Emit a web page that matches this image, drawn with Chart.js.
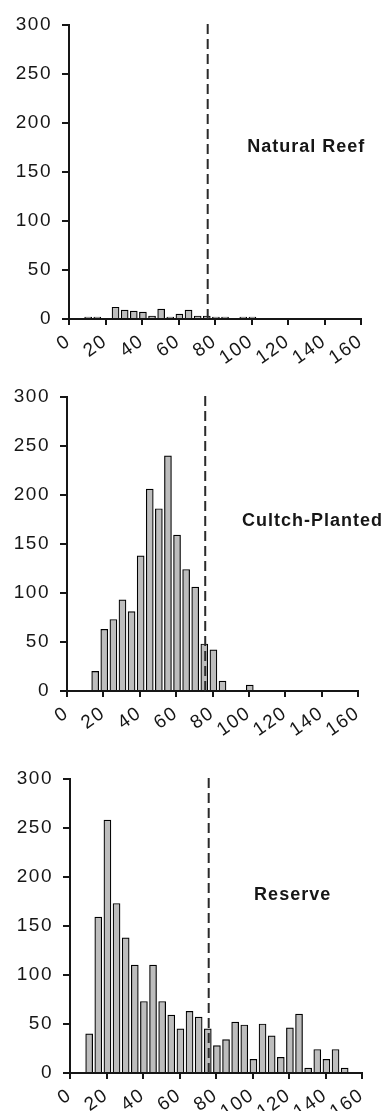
<!DOCTYPE html>
<html>
<head>
<meta charset="utf-8">
<script src="https://cdn.jsdelivr.net/npm/chart.js@4.4.1/dist/chart.umd.min.js"></script>
<style>
  body { margin: 0; background: #fff; }
  canvas { display: block; }
</style>
</head>
<body>
<canvas id="reefChart" width="391" height="370"></canvas>
<canvas id="cultchChart" width="391" height="370"></canvas>
<canvas id="reserveChart" width="391" height="371"></canvas>
<script>
// shell height bins (mm, bar centres)
const lengthBins = [10.5, 15.5, 20.5, 25.5, 30.5, 35.5, 40.5, 45.5, 50.5, 55.5,
  60.5, 65.5, 70.5, 75.5, 80.5, 85.5, 90.5, 95.5, 100.5, 105.5,
  110.5, 115.5, 120.5, 125.5, 130.5, 135.5, 140.5, 145.5, 150.5];

const naturalReefCounts = [2, 2, 0, 12, 9, 8, 7, 3, 10, 2,
  5, 9, 3, 3, 2, 2, 0, 2, 2, 0,
  0, 0, 0, 0, 0, 0, 0, 0, 0];

const cultchCounts = [0, 20, 63, 73, 93, 81, 138, 206, 186, 240,
  159, 124, 106, 48, 42, 10, 0, 0, 6, 0,
  0, 0, 0, 0, 0, 0, 0, 0, 0];

const reserveCounts = [40, 159, 258, 173, 138, 110, 73, 110, 73, 59,
  45, 63, 57, 45, 28, 34, 52, 49, 14, 50,
  38, 16, 46, 60, 5, 24, 14, 24, 5];

const legalSize = 76;   // dashed line
const yMax = 300;

const FONT = '"Liberation Sans", Arial, sans-serif';
const INK = '#161616';

const letterSpacing = {
  id: 'letterSpacing',
  beforeUpdate(chart) { chart.ctx.letterSpacing = '1.5px'; },
  beforeDraw(chart) { chart.ctx.letterSpacing = '1.5px'; }
};

const panelLabel = {
  id: 'panelLabel',
  afterDatasetsDraw(chart, args, opts) {
    const { ctx, scales } = chart;
    ctx.save();
    ctx.letterSpacing = '1px';
    ctx.font = 'bold 18px ' + FONT;
    ctx.fillStyle = INK;
    ctx.textAlign = 'center';
    ctx.textBaseline = 'middle';
    ctx.fillText(opts.text, scales.x.getPixelForValue(opts.x), scales.y.getPixelForValue(opts.y));
    ctx.restore();
  }
};

function buildPanel(id, counts, label, pad) {
  const bars = lengthBins.map((b, i) => ({ x: b, y: counts[i] || null }));
  const ctx = document.getElementById(id).getContext('2d');
  return new Chart(ctx, {
    type: 'bar',
    data: {
      datasets: [{
        type: 'line',
        data: [{ x: legalSize, y: 0 }, { x: legalSize, y: yMax + 6 }],
        borderColor: '#2a2a2a',
        borderWidth: 2,
        borderDash: [10, 5],
        pointRadius: 0,
        clip: false,
        order: 0
      }, {
        data: bars,
        backgroundColor: '#bdbdbd',
        borderColor: '#000',
        borderWidth: 1.2,
        barThickness: 7,
        order: 1
      }]
    },
    options: {
      responsive: false,
      animation: false,
      devicePixelRatio: 1,
      layout: { padding: { top: pad.top, right: pad.right, left: 0, bottom: 0 } },
      plugins: {
        legend: { display: false },
        tooltip: { enabled: false },
        panelLabel: label
      },
      scales: {
        x: {
          type: 'linear',
          min: 0, max: 160,
          offset: false,
          grid: { drawOnChartArea: false, offset: false, tickLength: 6, color: INK, lineWidth: 2 },
          border: { color: INK, width: 2 },
          ticks: {
            stepSize: 20,
            autoSkip: false,
            minRotation: 35, maxRotation: 35,
            padding: 5,
            color: INK,
            font: { family: FONT, size: 19 }
          },
          afterFit: s => { s.height = pad.xHeight; }
        },
        y: {
          min: 0, max: yMax,
          grid: { drawOnChartArea: false, tickLength: 7, color: INK, lineWidth: 2 },
          border: { color: INK, width: 2 },
          ticks: {
            stepSize: 50,
            padding: 10,
            color: INK,
            font: { family: FONT, size: 19 }
          },
          afterFit: s => { s.width = pad.yWidth; }
        }
      }
    },
    plugins: [letterSpacing, panelLabel]
  });
}

buildPanel('reefChart', naturalReefCounts,
  { text: 'Natural Reef', x: 130, y: 175 },
  { top: 25, right: 30, yWidth: 69, xHeight: 51 });

buildPanel('cultchChart', cultchCounts,
  { text: 'Cultch-Planted', x: 135, y: 173 },
  { top: 27, right: 33, yWidth: 67, xHeight: 49 });

buildPanel('reserveChart', reserveCounts,
  { text: 'Reserve', x: 122, y: 182 },
  { top: 39, right: 29, yWidth: 70, xHeight: 38 });
</script>
</body>
</html>
